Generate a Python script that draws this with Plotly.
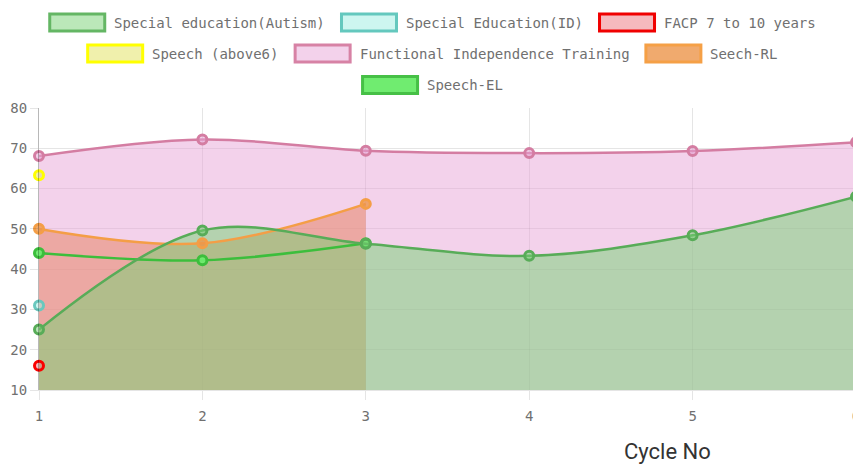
import plotly.graph_objects as go

# ---- data ----
cycles = [1, 2, 3, 4, 5, 6]
autism = [25, 49.6, 46.3, 43.3, 48.4, 58]
special_id = [31]
facp = [16]
speech_above6 = [63.3]
fit = [68.1, 72.2, 69.4, 68.8, 69.3, 71.5]
seech_rl = [50, 46.4, 56.2]
speech_el = [44, 42.2, 46.4]

names = ["Special education(Autism)", "Special Education(ID)", "FACP 7 to 10 years",
         "Speech (above6)", "Functional Independence Training", "Seech-RL", "Speech-EL"]
series = [autism, special_id, facp, speech_above6, fit, seech_rl, speech_el]

line_colors = ["rgb(88,172,88)", "rgb(105,200,190)", "rgb(250,0,0)", "rgb(255,255,0)",
               "rgb(212,125,162)", "rgb(244,158,70)", "rgb(60,190,60)"]
marker_fill = ["rgba(117,208,115,0.5)", "rgba(160,240,230,0.5)", "rgba(240,120,130,0.5)",
               "rgba(228,228,90,0.5)", "rgba(231,165,215,0.5)", "rgba(236,150,75,0.8)",
               "rgba(110,235,110,0.95)"]
legend_fill = ["rgb(187,232,185)", "rgb(205,246,240)", "rgb(246,185,190)", "rgb(240,240,172)",
               "rgb(243,210,235)", "rgb(240,170,110)", "rgb(112,236,112)"]
legend_border = ["rgb(100,182,100)", "rgb(100,200,190)", "rgb(240,0,0)", "rgb(255,255,0)",
                 "rgb(215,130,165)", "rgb(245,160,70)", "rgb(70,192,70)"]

# fills (drawn under all lines, order: orange, pink, green)
fill_specs = [(5, "rgba(230,113,13,0.6)"), (4, "rgba(231,165,215,0.5)"), (0, "rgba(117,210,115,0.5)")]

fig = go.Figure()
for idx, col in fill_specs:
    vals = series[idx]
    fig.add_trace(go.Scatter(
        x=cycles[:len(vals)], y=vals, mode="none", fill="tozeroy", fillcolor=col,
        line=dict(shape="spline", smoothing=1), hoverinfo="skip", showlegend=False))

# lines + markers (drawn in reverse order so the first series sits on top)
for i in reversed(range(len(series))):
    vals = series[i]
    fig.add_trace(go.Scatter(
        x=cycles[:len(vals)], y=vals, name=names[i], mode="lines+markers",
        line=dict(color=line_colors[i], width=2.5, shape="spline", smoothing=1),
        marker=dict(size=9, color=marker_fill[i], line=dict(color=line_colors[i], width=3)),
        cliponaxis=False, showlegend=False))

# page body has an 8px margin: figure is placed at (8, 8) in the window
OFF = 8
W, H = 861 - OFF, 472 - OFF
L, R, T = 39 - OFF, 5, 108 - OFF
B = H - (390 - OFF)
pw, ph = W - L - R, H - T - B

def px(x):
    return (x - OFF - L) / pw

def py(y):
    return (H - B - (y - OFF)) / ph

# custom centered legend rows
rows = [[0, 1, 2], [3, 4, 5], [6]]
row_y = [22.5, 53.5, 85]
cw = 8.43
box_w, box_h, gap_t, gap_i = 58, 17, 8, 15
shapes, annotations = [], []
for r, items in enumerate(rows):
    widths = [box_w + gap_t + len(names[i]) * cw for i in items]
    total = sum(widths) + gap_i * (len(items) - 1)
    x0 = 432 - total / 2
    cy = row_y[r]
    for i, w in zip(items, widths):
        shapes.append(dict(type="rect", xref="paper", yref="paper",
                           x0=px(x0 + 1.5), x1=px(x0 + box_w - 1.5),
                           y0=py(cy + box_h / 2), y1=py(cy - box_h / 2),
                           fillcolor=legend_fill[i], line=dict(color=legend_border[i], width=3),
                           layer="above"))
        annotations.append(dict(x=px(x0 + box_w + gap_t - 2), y=py(cy), xref="paper", yref="paper",
                                text=names[i], showarrow=False, xanchor="left", yanchor="middle",
                                font=dict(family="DejaVu Sans Mono", size=14, color="#707070")))
        x0 += w + gap_i

annotations.append(dict(x=px(667), y=py(451), xref="paper", yref="paper", text="Cycle No",
                        showarrow=False, xanchor="center", yanchor="middle",
                        font=dict(family="Roboto", size=22, color="#333")))

fig.update_layout(
    width=W, height=H, margin=dict(l=L, r=R, t=T, b=B),
    paper_bgcolor="white", plot_bgcolor="white",
    showlegend=False, shapes=shapes, annotations=annotations,
    xaxis=dict(range=[1, 6], tickmode="array", tickvals=cycles, ticktext=[str(c) for c in cycles],
               automargin=False, ticklabeloverflow="allow",
               showgrid=True, gridcolor="rgba(0,0,0,0.1)", gridwidth=1,
               ticks="outside", ticklen=9, tickcolor="rgba(0,0,0,0.1)", ticklabelstandoff=4,
               showline=True, linecolor="rgba(0,0,0,0.1)", linewidth=1, zeroline=False,
               tickfont=dict(family="DejaVu Sans Mono", size=14, color="#707070")),
    yaxis=dict(range=[10, 80], dtick=10, tick0=10, automargin=False,
               showgrid=True, gridcolor="rgba(0,0,0,0.1)", gridwidth=1,
               ticks="outside", ticklen=8, tickcolor="rgba(0,0,0,0.1)",
               showline=True, linecolor="rgba(0,0,0,0.28)", linewidth=1, zeroline=False,
               tickfont=dict(family="DejaVu Sans Mono", size=14, color="#707070")),
)

fig.write_html("out.html")
